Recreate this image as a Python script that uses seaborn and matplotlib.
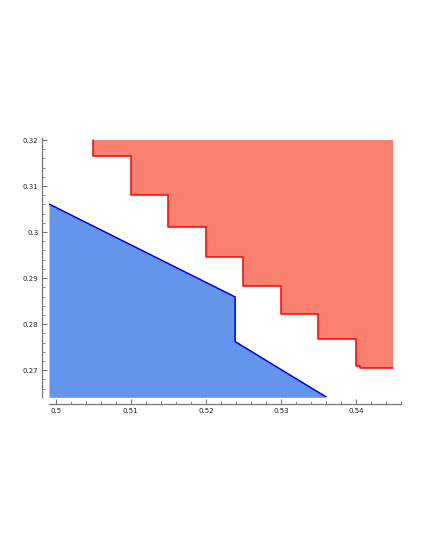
import matplotlib
matplotlib.use("Agg")
import matplotlib.pyplot as plt
from matplotlib.ticker import MultipleLocator, FuncFormatter
import seaborn as sns

# --- data ---
# blue region: below this boundary
blue_x = [0.4991, 0.5239, 0.5239, 0.5361]
blue_y = [0.3061, 0.2859, 0.2762, 0.2641]

# red region: above this staircase, up to red_top
red_x = [0.505, 0.505, 0.51, 0.51, 0.515, 0.515, 0.52, 0.52, 0.525, 0.525,
         0.53, 0.53, 0.535, 0.535, 0.54, 0.54, 0.5406, 0.5406, 0.545]
red_y = [0.3201, 0.3165, 0.3165, 0.3080, 0.3080, 0.3011, 0.3011, 0.2945, 0.2945, 0.2883,
         0.2883, 0.2823, 0.2823, 0.2767, 0.2767, 0.2710, 0.2710, 0.2704, 0.2704]
red_top = 0.3201

x_range = (0.4991, 0.5460)
y_range = (0.2641, 0.32055)

sns.set_style("ticks")
plt.rcParams["font.family"] = ["DejaVu Sans"]

fig = plt.figure(figsize=(4.25, 5.5), dpi=100)
ax = fig.add_axes([49 / 425, 1 - 397.3 / 550, 352 / 425, 259.8 / 550])

ax.fill_between(blue_x, y_range[0], blue_y, color="#6495ED", linewidth=0, zorder=1)
sns.lineplot(x=blue_x, y=blue_y, sort=False, estimator=None, color="#0000EE",
             linewidth=1.1, ax=ax, zorder=3)

ax.fill_between(red_x, red_y, red_top, color="#FA8072", linewidth=0, zorder=1)
sns.lineplot(x=red_x, y=red_y, sort=False, estimator=None, color="#FF0000",
             linewidth=1.1, ax=ax, zorder=3)

ax.set_xlim(*x_range)
ax.set_ylim(*y_range)

fmt = FuncFormatter(lambda v, _: f"{round(v, 4):g}")
ax.xaxis.set_major_locator(MultipleLocator(0.01))
ax.xaxis.set_minor_locator(MultipleLocator(0.002))
ax.yaxis.set_major_locator(MultipleLocator(0.01))
ax.yaxis.set_minor_locator(MultipleLocator(0.002))
ax.xaxis.set_major_formatter(fmt)
ax.yaxis.set_major_formatter(fmt)

sns.despine(ax=ax, offset=4.7)
for side in ["left", "bottom"]:
    ax.spines[side].set_color("#777777")
    ax.spines[side].set_linewidth(0.9)

ax.tick_params(which="major", direction="in", length=3.5, width=0.8,
               color="#777777", labelsize=5, labelcolor="#222222", pad=3)
ax.tick_params(which="minor", direction="in", length=2, width=0.6, color="#777777")

fig.savefig("out.png", dpi=100)
